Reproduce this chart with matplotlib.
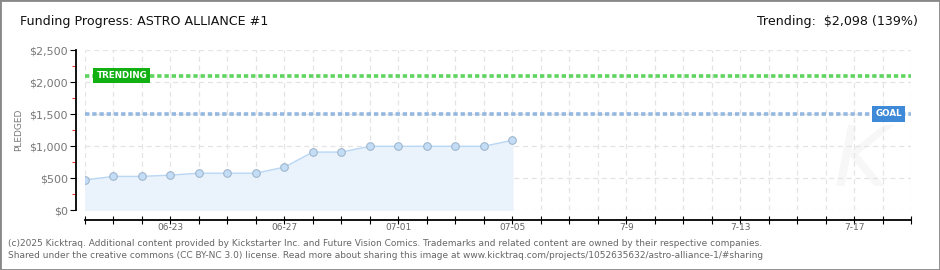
import matplotlib
matplotlib.use("Agg")
import matplotlib.pyplot as plt
import matplotlib.dates as mdates
from matplotlib.patches import Rectangle
from matplotlib.ticker import FuncFormatter, MultipleLocator
from datetime import date, timedelta

# pledged amount per day
start_day = date(2025, 6, 20)
end_day = date(2025, 7, 19)
pledged = [470, 525, 525, 545, 575, 575, 575, 670, 905, 905,
           995, 995, 995, 995, 995, 1090]
goal = 1500
trending = 2098
tick_days = [date(2025, 6, 23), date(2025, 6, 27), date(2025, 7, 1), date(2025, 7, 5),
             date(2025, 7, 9), date(2025, 7, 13), date(2025, 7, 17)]
tick_labels = ['06-23', '06-27', '07-01', '07-05', '7-9', '7-13', '7-17']

days = [start_day + timedelta(days=i) for i in range(len(pledged))]
x0 = mdates.date2num(start_day)

fig = plt.figure(figsize=(9.4, 2.7), dpi=100)
fig.patches.append(Rectangle((0, 0), 1, 1, transform=fig.transFigure, fill=False,
                             edgecolor='#888888', linewidth=2))

ax = fig.add_axes([85 / 940, 1 - 210 / 270, 826 / 940, 160 / 270])

ax.fill_between(days, pledged, 0, color='#eaf2fb', zorder=1)
ax.plot(days, pledged, color='#b9d7f5', linewidth=1, zorder=2)
ax.scatter(days, pledged, s=30, color='#c4ddf7', edgecolor='#9fb6cc', linewidth=0.8, zorder=3)

ax.axhline(trending, color='#5fd35f', linestyle=(0, (1.2, 0.8)), linewidth=2.6, zorder=2)
ax.axhline(goal, color='#94b8e0', linestyle=(0, (1.2, 0.8)), linewidth=2.6, zorder=2)

ax.text(x0 + 0.4, trending, 'TRENDING', color='white',
        fontsize=6.3, fontweight='bold', va='center', ha='left', zorder=5,
        bbox=dict(boxstyle='square,pad=0.35', facecolor='#12b012', edgecolor='none'))
ax.text(x0 + 27.75, goal, 'GOAL', color='white',
        fontsize=6.3, fontweight='bold', va='center', ha='left', zorder=5,
        bbox=dict(boxstyle='square,pad=0.35', facecolor='#3f8ad8', edgecolor='none'))

ax.text(0.94, 0.3, 'K', transform=ax.transAxes, fontsize=60, style='italic',
        color='#f7f7f7', ha='center', va='center', zorder=0)

ax.set_xlim(start_day, end_day)
ax.set_ylim(0, 2500)

# daily grid and ticks, labels only every fourth day
all_days = [start_day + timedelta(days=i) for i in range((end_day - start_day).days + 1)]
labels = []
for d in all_days:
    labels.append(tick_labels[tick_days.index(d)] if d in tick_days else '')
ax.set_xticks(all_days)
ax.set_xticklabels(labels)
ax.tick_params(axis='x', which='major', length=6, direction='inout', color='black',
               labelsize=6.5, labelcolor='#666666', pad=-1)

ax.yaxis.set_major_locator(MultipleLocator(500))
ax.yaxis.set_minor_locator(MultipleLocator(250))
ax.yaxis.set_major_formatter(FuncFormatter(lambda v, p: '${:,.0f}'.format(v)))
ax.tick_params(axis='y', which='major', length=4, labelsize=8, labelcolor='#777777', pad=2)
ax.tick_params(axis='y', which='minor', length=3, color='red')

ax.grid(True, which='major', color='#e4e4e4', linestyle=(0, (4, 3)), linewidth=0.9)
ax.set_axisbelow(True)

for s in ['top', 'right']:
    ax.spines[s].set_visible(False)
ax.spines['left'].set_position(('outward', 6.5))
ax.spines['bottom'].set_position(('outward', 7.2))
ax.spines['left'].set_linewidth(1.3)
ax.spines['bottom'].set_linewidth(1.3)

ax.set_ylabel('PLEDGED', fontsize=6.5, color='#777777', labelpad=4)

fig.text(20 / 940, 1 - 22 / 270, 'Funding Progress: ASTRO ALLIANCE #1', fontsize=9.1,
         va='center', ha='left', color='#111111')
fig.text(918 / 940, 1 - 22 / 270, 'Trending:  $2,098 (139%)', fontsize=9.1,
         va='center', ha='right', color='#111111')

fig.text(8 / 940, 1 - 243 / 270,
         '(c)2025 Kicktraq. Additional content provided by Kickstarter Inc. and Future Vision Comics. '
         'Trademarks and related content are owned by their respective companies.',
         fontsize=6.5, color='#666666', va='center', ha='left')
fig.text(8 / 940, 1 - 256 / 270,
         'Shared under the creative commons (CC BY-NC 3.0) license. Read more about sharing this image at '
         'www.kicktraq.com/projects/1052635632/astro-alliance-1/#sharing',
         fontsize=6.5, color='#666666', va='center', ha='left')

fig.savefig('out.png', dpi=100)
